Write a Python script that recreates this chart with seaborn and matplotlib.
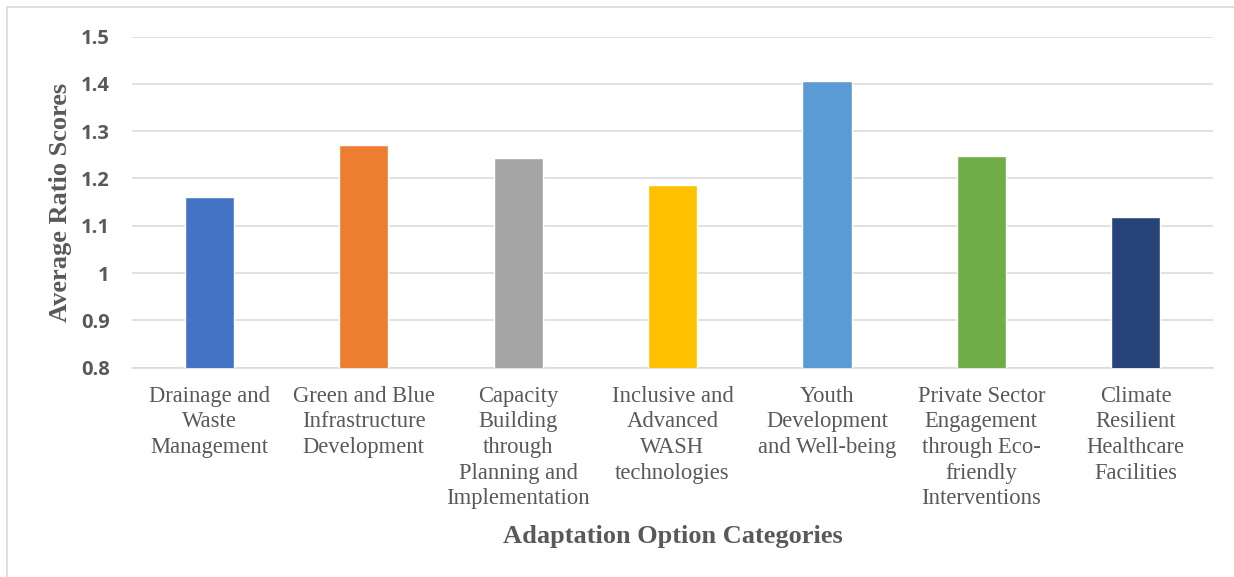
import matplotlib
matplotlib.use("Agg")
import matplotlib.pyplot as plt
from matplotlib.lines import Line2D
import seaborn as sns
import pandas as pd

# Average ratio score per adaptation option category
categories = [
    "Drainage and Waste Management",
    "Green and Blue Infrastructure Development",
    "Capacity Building through Planning and Implementation",
    "Inclusive and Advanced WASH technologies",
    "Youth Development and Well-being",
    "Private Sector Engagement through Eco-friendly Interventions",
    "Climate Resilient Healthcare Facilities",
]
scores = [1.161, 1.271, 1.243, 1.186, 1.406, 1.247, 1.118]
tick_labels = [
    "Drainage and\nWaste\nManagement",
    "Green and Blue\nInfrastructure\nDevelopment",
    "Capacity\nBuilding\nthrough\nPlanning and\nImplementation",
    "Inclusive and\nAdvanced\nWASH\ntechnologies",
    "Youth\nDevelopment\nand Well-being",
    "Private Sector\nEngagement\nthrough Eco-\nfriendly\nInterventions",
    "Climate\nResilient\nHealthcare\nFacilities",
]
y_ticks = [0.8, 0.9, 1.0, 1.1, 1.2, 1.3, 1.4, 1.5]
y_tick_labels = ["0.8", "0.9", "1", "1.1", "1.2", "1.3", "1.4", "1.5"]
colors = ["#4472C4", "#ED7D31", "#A5A5A5", "#FFC000", "#5B9BD5", "#70AD47", "#264478"]

TEXT = "#595959"
GRID = "#D9D9D9"
SERIF = ["Liberation Serif", "DejaVu Serif"]

sns.set_theme(style="white")
plt.rcParams["font.family"] = ["Liberation Serif", "DejaVu Sans"]

df = pd.DataFrame({"category": categories, "score": scores})

fig = plt.figure(figsize=(12.34, 5.77), dpi=100)
ax = fig.add_axes([0.107, 0.3629, 0.876, 0.5738])

sns.barplot(data=df, x="category", y="score", hue="category",
            palette=colors, order=categories, hue_order=categories,
            width=0.318, legend=False, saturation=1, ax=ax, zorder=3)

ax.set_ylim(0.8, 1.5)
ax.set_xlim(-0.5, len(categories) - 0.5)
ax.set_yticks(y_ticks)
ax.set_yticklabels(y_tick_labels, fontfamily=["Open Sans", "DejaVu Sans"],
                   fontweight="bold", fontsize=14.5, color=TEXT)
ax.set_xticks(range(len(categories)))
ax.set_xticklabels(tick_labels, fontfamily=SERIF, fontsize=16.3,
                   color=TEXT, linespacing=1.29, va="top")
ax.tick_params(axis="y", length=0, pad=16)
ax.tick_params(axis="x", length=0, pad=13)

ax.yaxis.grid(True, color=GRID, linewidth=1.1, zorder=0)
ax.set_axisbelow(True)
for side in ["top", "right", "left"]:
    ax.spines[side].set_visible(False)
ax.spines["bottom"].set_color(GRID)
ax.spines["bottom"].set_linewidth(1.1)

ax.set_xlabel("Adaptation Option Categories", fontfamily=SERIF,
              fontweight="bold", fontsize=19, color=TEXT)
ax.set_ylabel("Average Ratio Scores", fontfamily=SERIF,
              fontweight="bold", fontsize=19, color=TEXT)
ax.xaxis.set_label_coords(0.5, -0.476)
ax.yaxis.set_label_coords(-0.056, 0.5)

# light frame around the chart area
x0, y0 = 7 / 1234, 1 - 7 / 577
fig.add_artist(Line2D([x0, x0], [0, y0], transform=fig.transFigure,
                      color=GRID, linewidth=1.2))
fig.add_artist(Line2D([x0, 1], [y0, y0], transform=fig.transFigure,
                      color=GRID, linewidth=1.2))

fig.savefig("out.png", dpi=100, facecolor="white")
